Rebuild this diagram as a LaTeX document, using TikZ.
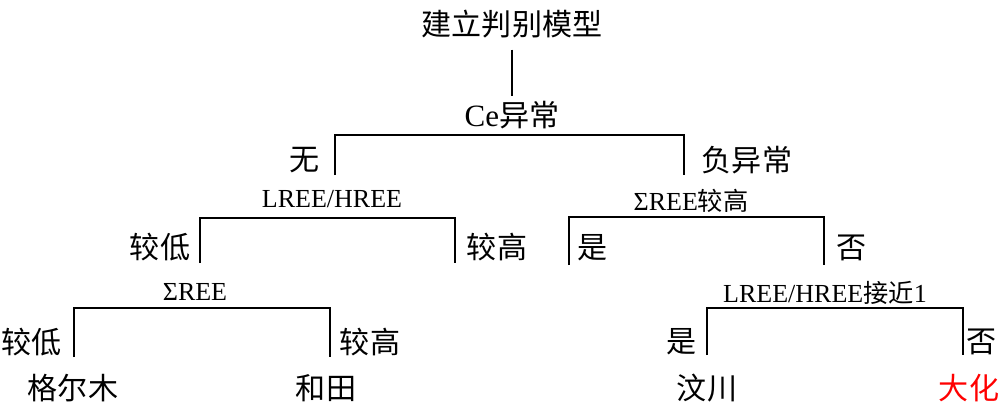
\documentclass[tikz,border=0pt]{standalone}
\usepackage{fontspec}
\setmainfont{Liberation Serif}
\newfontfamily\cjk[Scale=0.97]{Noto Sans CJK SC}
\usetikzlibrary{positioning}

\begin{document}
\begin{tikzpicture}[x=0.5pt,y=-0.5pt,line width=1pt,
  big/.style={font=\fontsize{15.5}{18}\selectfont},
  small/.style={font=\fontsize{13}{15}\selectfont}]

\useasboundingbox (0,0) rectangle (1000,409);

\node[big] (A) at (512,24) {\cjk 建立判别模型};
\node[big] (B) at (512,115) {Ce{\cjk 异常}};
\node[big] (C) at (305,160) {\cjk 无};
\node[big] (D) at (747,160) {\cjk 负异常};
\coordinate (B0) at (509,135);
\coordinate (B1) at (335,175);
\coordinate (B2) at (684,175);

\node[small] (E) at (332,199) {LREE/HREE};
\node[big] (F) at (160,247) {\cjk 较低};
\node[big] (G) at (497,247) {\cjk 较高};
\coordinate (E0) at (330,218);
\coordinate (E1) at (200,263);
\coordinate (E2) at (455,263);

\node[small] (H) at (691,201) {ΣREE{\cjk 较高}};
\node[big] (I) at (593,248) {\cjk 是};
\node[big] (J) at (852,248) {\cjk 否};
\coordinate (H0) at (696,217);
\coordinate (H1) at (569,265);
\coordinate (H2) at (824,265);

\node[small] (K) at (195,292) {ΣREE};
\node[big] (L) at (32,342) {\cjk 较低};
\node[big] (M) at (370,342) {\cjk 较高};
\node[big] (N) at (73,388) {\cjk 格尔木};
\node[big] (O) at (326,388) {\cjk 和田};
\coordinate (K0) at (202,308);
\coordinate (K1) at (74,357);
\coordinate (K2) at (330,357);

\node[small] (P) at (825,293) {LREE/HREE{\cjk 接近}1};
\node[big] (Q) at (682,342) {\cjk 是};
\node[big] (R) at (982,342) {\cjk 否};
\node[big] (S) at (707,388) {\cjk 汶川};
\node[big,red] (T) at (969,388) {\cjk 大化};
\coordinate (P0) at (835,308);
\coordinate (P1) at (707,355);
\coordinate (P2) at (963,355);

\draw[shorten <=2pt,shorten >=-1.5pt] (A) -- (B);
\draw (B1) |- (B0) -| (B2);
\draw (E1) |- (E0) -| (E2);
\draw (H1) |- (H0) -| (H2);
\draw (K1) |- (K0) -| (K2);
\draw (P1) |- (P0) -| (P2);

\end{tikzpicture}
\end{document}
